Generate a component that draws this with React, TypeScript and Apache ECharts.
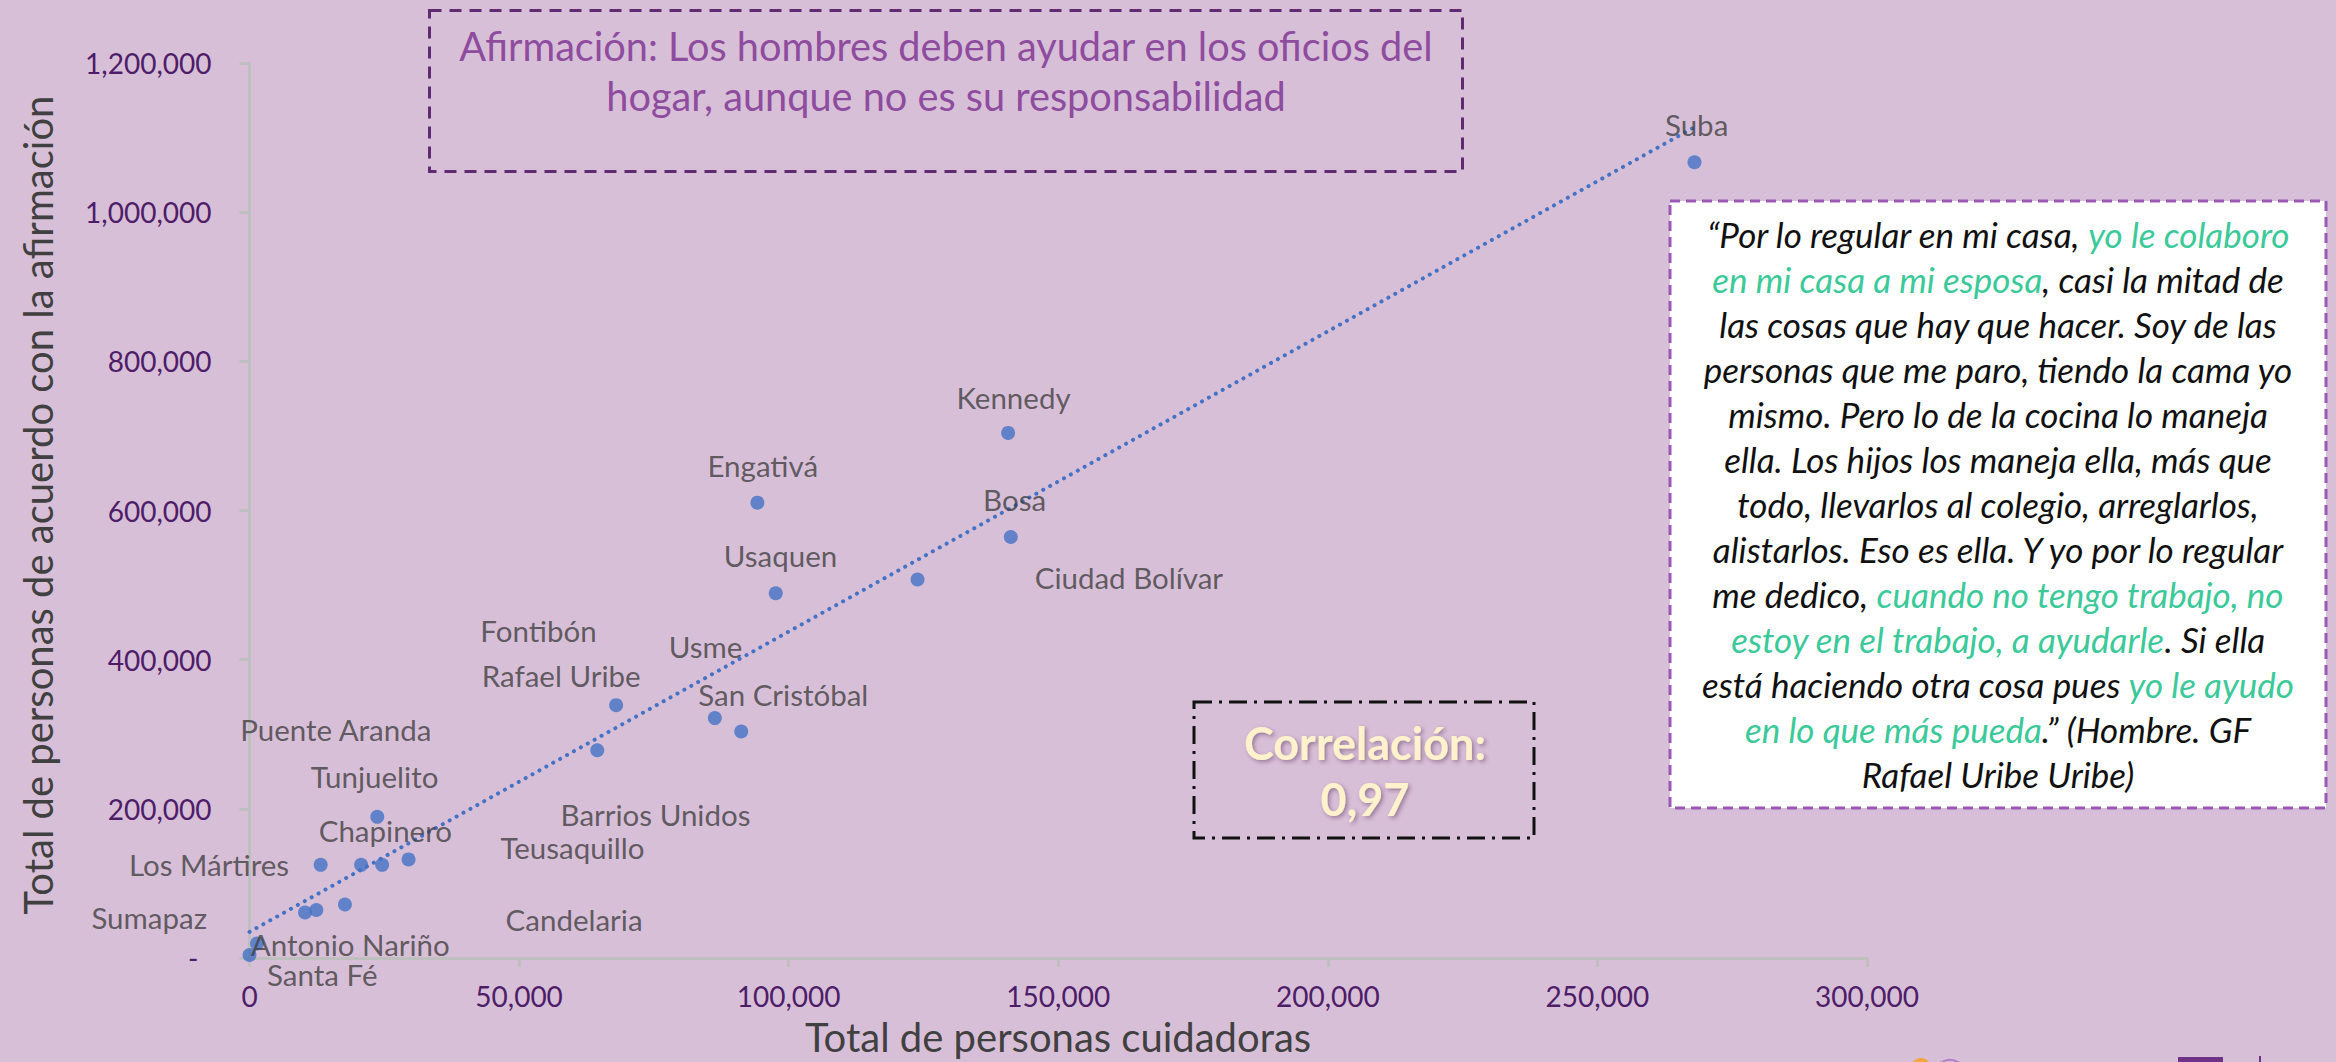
import React, { useEffect, useRef } from "react";
import * as echarts from "echarts";

// ---------- data ----------
const pointNames = [
  "Suba", "Kennedy", "Engativá", "Ciudad Bolívar", "Bosa", "Usaquen", "Fontibón",
  "San Cristóbal", "Usme", "Rafael Uribe", "Puente Aranda", "Barrios Unidos",
  "Tunjuelito", "Chapinero", "Teusaquillo", "Antonio Nariño", "Los Mártires",
  "Santa Fé", "Candelaria", "Sumapaz",
];
const caregivers = [
  268000, 140700, 94200, 141200, 123900, 97600, 68000,
  86300, 91200, 64500, 23700, 29500,
  13200, 20700, 24600, 17700, 12400,
  10300, 1400, 0,
];
const agreeing = [
  1067000, 704000, 610500, 564500, 507500, 489000, 339000,
  321700, 303700, 278500, 189300, 132200,
  124900, 124900, 124900, 71800, 64400,
  61000, 19500, 4000,
];

// data-label anchors (as placed in the original chart)
const labelNames = [
  "Suba", "Kennedy", "Engativá", "Bosa", "Usaquen", "Ciudad Bolívar", "Fontibón",
  "Usme", "Rafael Uribe", "San Cristóbal", "Puente Aranda", "Tunjuelito",
  "Barrios Unidos", "Chapinero", "Teusaquillo", "Los Mártires", "Sumapaz",
  "Candelaria", "Antonio Nariño", "Santa Fé",
];
const labelX = [
  268400, 141700, 95200, 141900, 98500, 163100, 53600,
  84600, 57800, 99000, 16000, 23200,
  75300, 25200, 59900, -7500, -18600,
  60200, 18700, 13500,
];
const labelY = [
  1116900, 751000, 660700, 614500, 539400, 510000, 439000,
  417000, 379300, 353200, 306500, 243200,
  191900, 170400, 147900, 125900, 54200,
  51400, 18100, -22500,
];

// linear trendline end points
const trendX = [0, 268000];
const trendY = [35000, 1114000];

const xMin = 0, xMax = 300000, xStep = 50000;
const yMin = 0, yMax = 1200000, yStep = 200000;

const xTitle = "Total de personas cuidadoras";
const yTitle = "Total de personas de acuerdo con la afirmación";
const statementLines = [
  "Afirmación: Los hombres deben ayudar en los oficios del",
  "hogar, aunque no es su responsabilidad",
];
const correlationLines = ["Correlación:", "0,97"];
const quoteLines: Array<Array<[string, number]>> = [
  [["“Por lo regular en mi casa, ", 0], ["yo le colaboro", 1]],
  [["en mi casa a mi esposa", 1], [", casi la mitad de", 0]],
  [["las cosas que hay que hacer. Soy de las", 0]],
  [["personas que me paro, tiendo la cama yo", 0]],
  [["mismo. Pero lo de la cocina lo maneja", 0]],
  [["ella. Los hijos los maneja ella, más que", 0]],
  [["todo, llevarlos al colegio, arreglarlos,", 0]],
  [["alistarlos. Eso es ella. Y yo por lo regular", 0]],
  [["me dedico, ", 0], ["cuando no tengo trabajo, no", 1]],
  [["estoy en el trabajo, a ayudarle", 1], [". Si ella", 0]],
  [["está haciendo otra cosa pues ", 0], ["yo le ayudo", 1]],
  [["en lo que más pueda", 1], [".” (Hombre. GF", 0]],
  [["Rafael Uribe Uribe)", 0]],
];

// ---------- styling ----------
const BG = "#D8BFD8";
const FONT = "Lato, 'Open Sans', sans-serif";
const TICK_COLOR = "#4D1D68";
const AXIS_COLOR = "#BFBFBF";
const DOT = "#4472C4";
const LABEL_COLOR = "#404040";

const fmt = (v: number) =>
  String(v).replace(/\B(?=(\d{3})+(?!\d))/g, ",");

function buildOption() {
  const quoteX = 1998;
  const quoteSize = 35;
  const quoteElements = quoteLines.map((segs, i) => ({
    type: "text",
    x: quoteX,
    y: 234 + i * 45,
    z: 20,
    silent: true,
    style: {
      text: segs.map(([t, h]) => `{${h ? "g" : "n"}|${t}}`).join(""),
      align: "center",
      textAlign: "center",
      verticalAlign: "middle",
      textVerticalAlign: "middle",
      fontSize: quoteSize,
      fontFamily: FONT,
      fontStyle: "italic",
      fill: "#111111",
      rich: {
        n: { fontSize: quoteSize, fontFamily: FONT, fontStyle: "italic", fill: "#111111", color: "#111111" },
        g: { fontSize: quoteSize, fontFamily: FONT, fontStyle: "italic", fill: "#3CC99A", color: "#3CC99A" },
      },
    },
  }));

  const statementElements = statementLines.map((t, i) => ({
    type: "text",
    x: 946,
    y: 45 + i * 50,
    z: 20,
    silent: true,
    style: {
      text: t,
      align: "center",
      textAlign: "center",
      verticalAlign: "middle",
      textVerticalAlign: "middle",
      fontSize: 39.7,
      fontFamily: FONT,
      fill: "#8E4C9E",
    },
  }));

  const corrElements = correlationLines.map((t, i) => ({
    type: "text",
    x: 1365,
    y: 743 + i * 56,
    z: 20,
    silent: true,
    style: {
      text: t,
      align: "center",
      textAlign: "center",
      verticalAlign: "middle",
      textVerticalAlign: "middle",
      fontSize: 45,
      fontWeight: "bold",
      fontFamily: FONT,
      fill: "#FFF2CC",
      textShadowColor: "rgba(70,40,70,0.45)",
      textShadowBlur: 4,
      textShadowOffsetX: 2,
      textShadowOffsetY: 2,
    },
  }));

  return {
    animation: false,
    backgroundColor: BG,
    grid: { left: 249.5, right: 469, top: 63, bottom: 104, containLabel: false },
    xAxis: {
      type: "value",
      min: xMin,
      max: xMax,
      interval: xStep,
      splitLine: { show: false },
      axisLine: { show: true, onZero: false, lineStyle: { color: AXIS_COLOR, width: 3 } },
      axisTick: { show: true, length: 9, lineStyle: { color: AXIS_COLOR, width: 3 } },
      axisLabel: {
        color: TICK_COLOR,
        fontFamily: FONT,
        fontSize: 28,
        margin: 24,
        formatter: (v: number) => fmt(v),
      },
    },
    yAxis: {
      type: "value",
      min: yMin,
      max: yMax,
      interval: yStep,
      splitLine: { show: false },
      axisLine: { show: true, onZero: false, lineStyle: { color: AXIS_COLOR, width: 3 } },
      axisTick: { show: true, length: 10, lineStyle: { color: AXIS_COLOR, width: 3 } },
      axisLabel: {
        color: TICK_COLOR,
        fontFamily: FONT,
        fontSize: 28,
        margin: 38,
        formatter: (v: number) => (v === 0 ? "{z|-}" : fmt(v)),
        rich: {
          z: { color: TICK_COLOR, fontFamily: FONT, fontSize: 28, padding: [0, 13, 0, 0] },
        },
      },
    },
    series: [
      {
        type: "line",
        name: "Tendencia",
        data: trendX.map((x, i) => [x, trendY[i]]),
        showSymbol: false,
        symbol: "none",
        silent: true,
        z: 3,
        lineStyle: { color: DOT, width: 4, type: [0.1, 7.8], cap: "round" },
      },
      {
        type: "scatter",
        name: "Localidades",
        data: pointNames.map((n, i) => ({ name: n, value: [caregivers[i], agreeing[i]] })),
        symbolSize: 14,
        itemStyle: { color: DOT },
        z: 2,
      },
      {
        type: "scatter",
        name: "Etiquetas",
        data: labelNames.map((n, i) => ({ name: n, value: [labelX[i], labelY[i]] })),
        symbolSize: 1,
        clip: false,
        silent: true,
        itemStyle: { color: "transparent" },
        z: 4,
        label: {
          show: true,
          position: "inside",
          formatter: "{b}",
          color: LABEL_COLOR,
          fontFamily: FONT,
          fontSize: 29.5,
        },
      },
    ],
    graphic: {
      elements: [
        // statement box
        {
          type: "rect",
          z: 10,
          silent: true,
          shape: { x: 429.5, y: 10.5, width: 1033, height: 161 },
          style: { fill: "none", stroke: "#5E2A72", lineWidth: 3, lineDash: [12, 8] },
        },
        ...statementElements,
        // quote box
        {
          type: "rect",
          z: 10,
          silent: true,
          shape: { x: 1670, y: 201, width: 656, height: 607 },
          style: { fill: "#FFFFFF", stroke: "#9A58B5", lineWidth: 3, lineDash: [10, 6] },
        },
        ...quoteElements,
        // correlation box
        {
          type: "rect",
          z: 10,
          silent: true,
          shape: { x: 1194, y: 702, width: 340, height: 136 },
          style: { fill: "none", stroke: "#111111", lineWidth: 3, lineDash: [18, 7, 3, 7] },
        },
        ...corrElements,
        // axis titles
        {
          type: "text",
          x: 1058,
          y: 1037,
          z: 20,
          silent: true,
          style: {
            text: xTitle,
            align: "center",
            textAlign: "center",
            verticalAlign: "middle",
            textVerticalAlign: "middle",
            fontSize: 40,
            fontFamily: FONT,
            fill: LABEL_COLOR,
          },
        },
        {
          type: "text",
          x: 38,
          y: 505,
          rotation: Math.PI / 2,
          z: 20,
          silent: true,
          style: {
            text: yTitle,
            align: "center",
            textAlign: "center",
            verticalAlign: "middle",
            textVerticalAlign: "middle",
            fontSize: 40,
            fontFamily: FONT,
            fill: LABEL_COLOR,
          },
        },
        // partially visible logos at the bottom edge
        { type: "circle", silent: true, shape: { cx: 1921, cy: 1068, r: 10 }, style: { fill: "#F2A541" } },
        { type: "circle", silent: true, shape: { cx: 1950, cy: 1077, r: 17 }, style: { fill: "none", stroke: "#B07CC6", lineWidth: 2 } },
        { type: "rect", silent: true, shape: { x: 2178, y: 1057, width: 45, height: 8 }, style: { fill: "#6E3386" } },
        { type: "line", silent: true, shape: { x1: 2260, y1: 1056, x2: 2260, y2: 1062 }, style: { stroke: "#6E3386", lineWidth: 2 } },
      ],
    },
  };
}

export default function App() {
  const ref = useRef<HTMLDivElement>(null);
  useEffect(() => {
    document.body.style.margin = "0";
    const chart = echarts.init(ref.current as HTMLDivElement, null, { renderer: "svg" });
    chart.setOption(buildOption() as any);
    return () => chart.dispose();
  }, []);
  return (
    <div
      ref={ref}
      style={{ position: "absolute", left: 0, top: 0, width: 2336, height: 1062, background: BG }}
    />
  );
}
